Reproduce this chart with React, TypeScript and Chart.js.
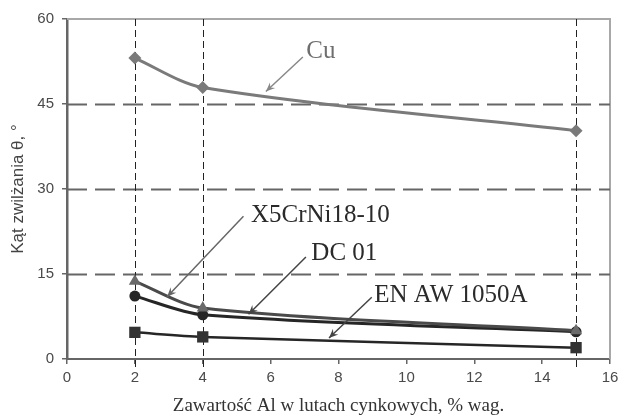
import React, { useEffect, useRef } from "react";
import { Chart, registerables } from "chart.js";

Chart.register(...registerables);

// ---- data ----
const xValues = [2, 4, 15];
const cuValues = [53.1, 47.9, 40.3];
const x5Values = [13.7, 9.0, 5.0];
const dc01Values = [11.1, 7.8, 4.8];
const enawValues = [4.7, 3.9, 2.0];

const seriesNames = ["Cu", "X5CrNi18-10", "DC 01", "EN AW 1050A"];

const xMin = 0;
const xMax = 16;
const xStep = 2;
const yMin = 0;
const yMax = 60;
const yStep = 15;

const dashedXLines = [2, 4, 15];
const dashedYLines = [15, 30, 45];

const xTitle = "Zawartość Al w lutach cynkowych, % wag.";
const yTitle = "Kąt zwilżania θ, °";

// annotation labels (data coordinates): text anchor, arrow start, arrow tip
const labelAnchors = [
  [7.05, 54.3],
  [5.42, 25.4],
  [7.2, 18.7],
  [9.05, 11.3],
];
const arrowStarts = [
  [6.95, 53.3],
  [5.2, 25.2],
  [7.04, 18.0],
  [8.98, 10.9],
];
const arrowTips = [
  [5.86, 47.2],
  [2.95, 11.0],
  [5.35, 7.9],
  [7.72, 3.7],
];
const labelColors = ["#6e6e6e", "#2a2a2a", "#2a2a2a", "#2a2a2a"];
const arrowColors = ["#888888", "#666666", "#444444", "#444444"];

const toPoints = (ys: number[]) => xValues.map((x, i) => ({ x, y: ys[i] }));

const overlayPlugin = {
  id: "overlay",
  beforeDatasetsDraw(chart: any) {
    const { ctx, chartArea, scales } = chart;
    const xs = scales.x;
    const ys = scales.y;
    ctx.save();
    // top and right frame
    ctx.strokeStyle = "#a8a8a8";
    ctx.lineWidth = 2;
    ctx.beginPath();
    ctx.moveTo(chartArea.left, chartArea.top);
    ctx.lineTo(chartArea.right, chartArea.top);
    ctx.lineTo(chartArea.right, chartArea.bottom);
    ctx.stroke();
    // horizontal dashed
    ctx.strokeStyle = "#666666";
    ctx.lineWidth = 2;
    ctx.setLineDash([20, 8]);
    dashedYLines.forEach((v) => {
      const py = Math.round(ys.getPixelForValue(v)) + 0.5;
      ctx.beginPath();
      ctx.moveTo(chartArea.left, py);
      ctx.lineTo(chartArea.right, py);
      ctx.stroke();
    });
    // vertical dashed
    ctx.strokeStyle = "#222222";
    ctx.lineWidth = 1;
    ctx.setLineDash([7, 4]);
    dashedXLines.forEach((v) => {
      const px = Math.round(xs.getPixelForValue(v)) + 0.5;
      ctx.beginPath();
      ctx.moveTo(px, chartArea.top);
      ctx.lineTo(px, chartArea.bottom + 8);
      ctx.stroke();
    });
    ctx.restore();
  },
  afterDatasetsDraw(chart: any) {
    const { ctx, scales } = chart;
    const xs = scales.x;
    const ys = scales.y;
    ctx.save();
    seriesNames.forEach((name, i) => {
      const sx = xs.getPixelForValue(arrowStarts[i][0]);
      const sy = ys.getPixelForValue(arrowStarts[i][1]);
      const tx = xs.getPixelForValue(arrowTips[i][0]);
      const ty = ys.getPixelForValue(arrowTips[i][1]);
      ctx.strokeStyle = arrowColors[i];
      ctx.fillStyle = arrowColors[i];
      ctx.lineWidth = 1.5;
      ctx.beginPath();
      ctx.moveTo(sx, sy);
      ctx.lineTo(tx, ty);
      ctx.stroke();
      const ang = Math.atan2(ty - sy, tx - sx);
      const len = 10;
      const spread = 0.4;
      ctx.beginPath();
      ctx.moveTo(tx, ty);
      ctx.lineTo(tx - len * Math.cos(ang - spread), ty - len * Math.sin(ang - spread));
      ctx.lineTo(tx - len * 0.6 * Math.cos(ang), ty - len * 0.6 * Math.sin(ang));
      ctx.lineTo(tx - len * Math.cos(ang + spread), ty - len * Math.sin(ang + spread));
      ctx.closePath();
      ctx.fill();

      const lx = xs.getPixelForValue(labelAnchors[i][0]);
      const ly = ys.getPixelForValue(labelAnchors[i][1]);
      ctx.fillStyle = labelColors[i];
      ctx.font = '25px "Liberation Serif", "DejaVu Serif", serif';
      ctx.textAlign = "left";
      ctx.textBaseline = "middle";
      ctx.fillText(name, lx, ly);
    });
    ctx.restore();
  },
};

export default function App() {
  const canvasRef = useRef<HTMLCanvasElement | null>(null);

  useEffect(() => {
    if (!canvasRef.current) return;
    const chart = new Chart(canvasRef.current, {
      type: "line",
      data: {
        datasets: [
          {
            label: seriesNames[0],
            data: toPoints(cuValues),
            borderColor: "#7a7a7a",
            backgroundColor: "#7a7a7a",
            borderWidth: 3,
            pointStyle: "rectRot",
            pointRadius: 6.5,
            pointBorderWidth: 0,
            tension: 0.3,
          },
          {
            label: seriesNames[1],
            data: toPoints(x5Values),
            borderColor: "#4a4a4a",
            backgroundColor: "#6a6a6a",
            borderWidth: 3,
            pointStyle: "triangle",
            pointRadius: 7,
            pointBorderWidth: 0,
            tension: 0.3,
          },
          {
            label: seriesNames[2],
            data: toPoints(dc01Values),
            borderColor: "#262626",
            backgroundColor: "#262626",
            borderWidth: 3,
            pointStyle: "circle",
            pointRadius: 5.5,
            pointBorderWidth: 0,
            tension: 0.3,
          },
          {
            label: seriesNames[3],
            data: toPoints(enawValues),
            borderColor: "#262626",
            backgroundColor: "#333333",
            borderWidth: 2.5,
            pointStyle: "rect",
            pointRadius: 8,
            pointBorderWidth: 0,
            tension: 0.3,
          },
        ],
      },
      options: {
        responsive: false,
        animation: false,
        layout: { padding: { top: 19, right: 8, left: 0, bottom: 0 } },
        plugins: {
          legend: { display: false },
          tooltip: { enabled: false },
        },
        scales: {
          x: {
            type: "linear",
            min: xMin,
            max: xMax,
            ticks: {
              stepSize: xStep,
              color: "#4a4a4a",
              font: { family: '"Liberation Sans", Arial, sans-serif', size: 15 },
              padding: 5,
            },
            grid: {
              drawOnChartArea: false,
              drawTicks: true,
              tickLength: 5,
              color: "#666666",
              lineWidth: 1.5,
            },
            border: { color: "#666666", width: 2 },
            title: {
              display: true,
              text: xTitle,
              color: "#333333",
              font: { family: '"Liberation Serif", serif', size: 19 },
              padding: { top: 0, bottom: 0 },
            },
            afterFit: (s: any) => {
              s.height = 58;
              s.paddingRight = 0;
              s.paddingLeft = 0;
            },
          },
          y: {
            type: "linear",
            min: yMin,
            max: yMax,
            ticks: {
              stepSize: yStep,
              color: "#4a4a4a",
              font: { family: '"Liberation Sans", Arial, sans-serif', size: 15 },
              padding: 8,
            },
            grid: {
              drawOnChartArea: false,
              drawTicks: true,
              tickLength: 5,
              color: "#666666",
              lineWidth: 1.5,
            },
            border: { color: "#666666", width: 2.5 },
            title: {
              display: true,
              text: yTitle,
              color: "#444444",
              font: { family: '"Liberation Sans", Arial, sans-serif', size: 17 },
              padding: { top: 8, bottom: 0 },
            },
            afterFit: (s: any) => {
              s.width = 67;
            },
          },
        },
      } as any,
      plugins: [overlayPlugin],
    });
    return () => chart.destroy();
  }, []);

  return (
    <div style={{ position: "fixed", left: 0, top: 0, width: 618, height: 417, background: "#fff" }}>
      <canvas ref={canvasRef} width={618} height={417} />
    </div>
  );
}
